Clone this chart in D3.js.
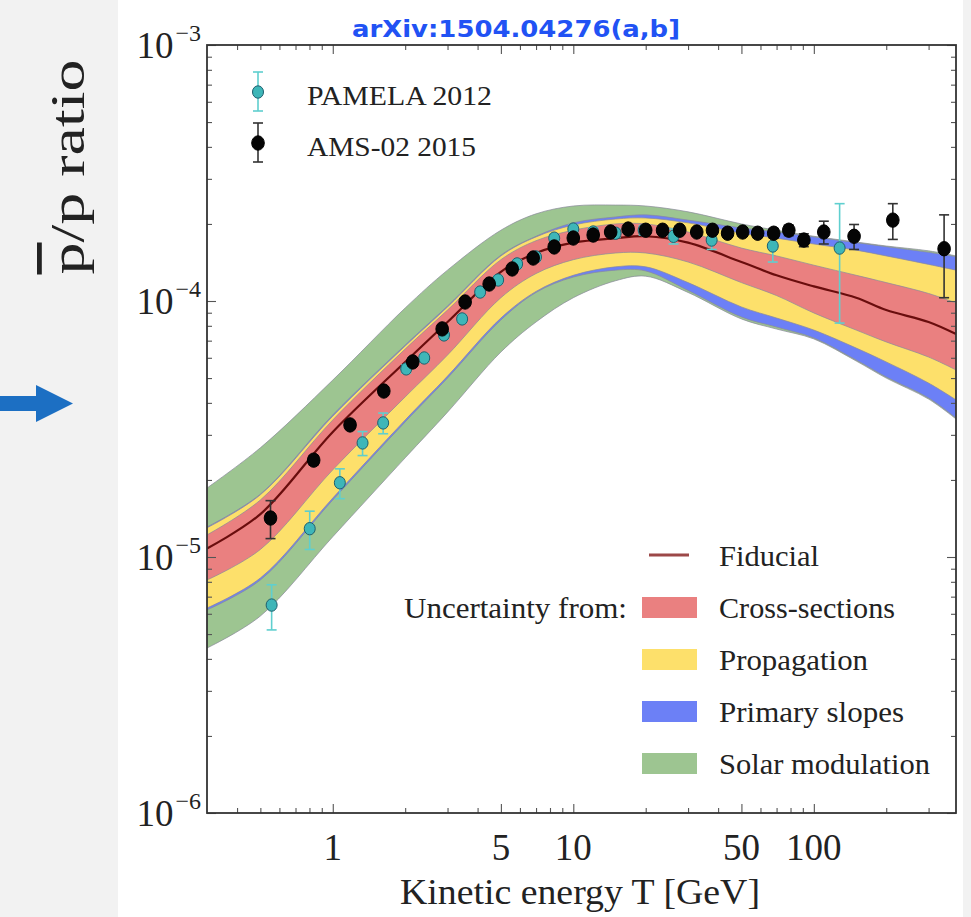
<!DOCTYPE html>
<html>
<head>
<meta charset="utf-8">
<script src="https://cdn.jsdelivr.net/npm/d3@7"></script>
<style>
  html, body { margin: 0; padding: 0; background: #ffffff; }
  svg { display: block; }
</style>
</head>
<body>
<svg id="chart" width="971" height="917"></svg>
<script>
// ---------------- DATA ----------------
// kinetic energy grid (GeV) for the model bands
const energyGrid = [0.3, 0.5, 1, 2, 3, 5, 7, 10, 15, 20, 30, 50, 70, 100, 150, 200, 300, 390];

const fiducial  = [1.08e-5, 1.47e-5, 3.08e-5, 5.78e-5, 8.28e-5, 1.30e-4, 1.54e-4, 1.69e-4, 1.76e-4, 1.79e-4, 1.69e-4, 1.42e-4, 1.26e-4, 1.14e-4, 1.03e-4, 9.22e-5, 8.28e-5, 7.43e-5];

const crossUpper = [1.22e-5, 1.67e-5, 3.43e-5, 6.49e-5, 9.22e-5, 1.45e-4, 1.72e-4, 1.89e-4, 2.00e-4, 2.00e-4, 1.86e-4, 1.61e-4, 1.50e-4, 1.38e-4, 1.26e-4, 1.18e-4, 1.07e-4, 9.82e-5];
const crossLower = [8.13e-6, 1.07e-5, 2.19e-5, 4.22e-5, 6.15e-5, 1.03e-4, 1.28e-4, 1.45e-4, 1.54e-4, 1.54e-4, 1.42e-4, 1.18e-4, 1.05e-4, 8.98e-5, 7.70e-5, 6.92e-5, 6.04e-5, 5.38e-5];

const propUpper = [1.30e-5, 1.75e-5, 3.55e-5, 6.67e-5, 9.48e-5, 1.50e-4, 1.78e-4, 1.98e-4, 2.09e-4, 2.11e-4, 2.02e-4, 1.84e-4, 1.76e-4, 1.67e-4, 1.58e-4, 1.50e-4, 1.39e-4, 1.32e-4];
const propLower = [6.32e-6, 8.28e-6, 1.70e-5, 3.43e-5, 5.09e-5, 8.58e-5, 1.09e-4, 1.26e-4, 1.36e-4, 1.36e-4, 1.18e-4, 9.48e-5, 8.58e-5, 7.70e-5, 6.55e-5, 5.78e-5, 4.78e-5, 4.11e-5];

const slopeUpper = [1.31e-5, 1.76e-5, 3.59e-5, 6.73e-5, 9.56e-5, 1.51e-4, 1.79e-4, 2.02e-4, 2.13e-4, 2.17e-4, 2.07e-4, 1.93e-4, 1.86e-4, 1.78e-4, 1.69e-4, 1.63e-4, 1.55e-4, 1.49e-4];
const slopeLower = [6.21e-6, 8.13e-6, 1.67e-5, 3.37e-5, 5.00e-5, 8.43e-5, 1.08e-4, 1.24e-4, 1.32e-4, 1.31e-4, 1.10e-4, 8.66e-5, 7.91e-5, 7.17e-5, 5.88e-5, 5.05e-5, 4.18e-5, 3.49e-5];

const solarUpper = [1.86e-5, 2.67e-5, 4.91e-5, 9.39e-5, 1.32e-4, 1.89e-4, 2.19e-4, 2.35e-4, 2.37e-4, 2.35e-4, 2.23e-4, 2.00e-4, 1.89e-4, 1.79e-4, 1.70e-4, 1.64e-4, 1.57e-4, 1.50e-4];
const solarLower = [4.41e-6, 5.88e-6, 1.20e-5, 2.44e-5, 3.68e-5, 6.32e-5, 8.28e-5, 1.03e-4, 1.20e-4, 1.25e-4, 1.08e-4, 8.51e-5, 7.77e-5, 7.11e-5, 5.83e-5, 5.00e-5, 4.14e-5, 3.46e-5];

// PAMELA 2012
const pamelaT   = [0.557, 0.802, 1.07, 1.33, 1.62, 2.02, 2.40, 2.90, 3.45, 4.10, 4.87, 5.84, 7.0, 8.33, 10.0, 12.1, 15.0, 19.6, 26.1, 37.6, 67.5, 128];
const pamelaV   = [6.49e-6, 1.29e-5, 1.95e-5, 2.79e-5, 3.34e-5, 5.43e-5, 5.99e-5, 7.37e-5, 8.51e-5, 1.084e-4, 1.208e-4, 1.396e-4, 1.486e-4, 1.76e-4, 1.91e-4, 1.86e-4, 1.84e-4, 1.89e-4, 1.79e-4, 1.73e-4, 1.64e-4, 1.61e-4];
const pamelaErr = [1.3e-6, 2.2e-6, 2.6e-6, 3.0e-6, 3.1e-6, 2.0e-6, 2.2e-6, 2.7e-6, 3.0e-6, 3.8e-6, 4.2e-6, 5.0e-6, 5.0e-6, 6.0e-6, 7.0e-6, 7.0e-6, 7.0e-6, 8.0e-6, 1.2e-5, 1.4e-5, 2.2e-5, 7.9e-5];

// AMS-02 2015
const amsT   = [0.551, 0.833, 1.18, 1.63, 2.15, 2.85, 3.55, 4.47, 5.57, 6.81, 8.33, 10.0, 12.1, 14.3, 16.9, 20.0, 23.5, 27.7, 32.6, 37.9, 43.8, 50.6, 58.4, 68.1, 78.7, 90.9, 110, 147, 213, 348];
const amsV   = [1.42e-5, 2.39e-5, 3.28e-5, 4.45e-5, 5.78e-5, 7.78e-5, 9.91e-5, 1.165e-4, 1.334e-4, 1.472e-4, 1.626e-4, 1.762e-4, 1.81e-4, 1.86e-4, 1.91e-4, 1.89e-4, 1.89e-4, 1.89e-4, 1.86e-4, 1.89e-4, 1.84e-4, 1.86e-4, 1.84e-4, 1.84e-4, 1.89e-4, 1.73e-4, 1.86e-4, 1.79e-4, 2.07e-4, 1.60e-4];
const amsErr = [2.4e-6, 1.0e-6, 1.3e-6, 1.7e-6, 2.0e-6, 2.5e-6, 3.0e-6, 3.5e-6, 4.0e-6, 4.5e-6, 5.0e-6, 5.5e-6, 6.0e-6, 6.0e-6, 6.0e-6, 6.0e-6, 6.0e-6, 6.0e-6, 6.0e-6, 6.0e-6, 6.5e-6, 7.0e-6, 7.0e-6, 8.0e-6, 9.0e-6, 1.0e-5, 1.9e-5, 2.0e-5, 3.3e-5, 5.7e-5];

// axes / labels
const xMajorTicks = [1, 5, 10, 50, 100];
const xMinorTicks = [0.4, 0.5, 0.6, 0.7, 0.8, 0.9, 2, 3, 4, 6, 7, 8, 9, 20, 30, 40, 60, 70, 80, 90, 200, 300];
const yMajorExponents = [-6, -5, -4, -3];
const yMinorMultipliers = [2, 3, 4, 5, 6, 7, 8, 9];
const seriesLabels = ["PAMELA 2012", "AMS-02 2015"];
const bandLabels = ["Cross-sections", "Propagation", "Primary slopes", "Solar modulation"];
const fiducialLabel = "Fiducial";

// ---------------- DRAWING ----------------
const svg = d3.select("#chart");
const W = 971, H = 917;
const X0 = 207, X1 = 956, Y0 = 45, Y1 = 813;
const serif = "'Liberation Serif', 'DejaVu Serif', serif";

// slide background strips
svg.append("rect").attr("x", 0).attr("y", 0).attr("width", W).attr("height", H).attr("fill", "#ffffff");
svg.append("rect").attr("x", 0).attr("y", 0).attr("width", 118).attr("height", H).attr("fill", "#f2f2f2");
svg.append("rect").attr("x", 963).attr("y", 0).attr("width", W - 963).attr("height", H).attr("fill", "#f2f2f2");

const x = d3.scaleLog().domain([0.3, 390]).range([X0, X1]);
const y = d3.scaleLog().domain([1e-6, 1e-3]).range([Y1, Y0]);

svg.append("defs").append("clipPath").attr("id", "plotclip")
  .append("rect").attr("x", X0).attr("y", Y0).attr("width", X1 - X0).attr("height", Y1 - Y0);

const plot = svg.append("g").attr("clip-path", "url(#plotclip)");

const bands = [
  { up: solarUpper, lo: solarLower, color: "#9dc591" },
  { up: slopeUpper, lo: slopeLower, color: "#6c80f6" },
  { up: propUpper,  lo: propLower,  color: "#fde06b" },
  { up: crossUpper, lo: crossLower, color: "#ea8080" }
];
const smooth = d3.curveCatmullRom.alpha(0.5);

bands.forEach(b => {
  const area = d3.area()
    .x((d, i) => x(energyGrid[i]))
    .y0((d, i) => y(b.lo[i]))
    .y1((d, i) => y(b.up[i]))
    .curve(smooth);
  plot.append("path").datum(energyGrid).attr("d", area)
    .attr("fill", b.color).attr("stroke", "#8a8a9a").attr("stroke-width", 0.9).attr("stroke-opacity", 0.8);
});

const fidLine = d3.line().x((d, i) => x(energyGrid[i])).y((d, i) => y(fiducial[i])).curve(smooth);
plot.append("path").datum(energyGrid).attr("d", fidLine)
  .attr("fill", "none").attr("stroke", "#6a0d0d").attr("stroke-width", 2.2);

// data points with error bars
function drawSeries(Ts, Vs, Es, opt) {
  const g = plot.append("g");
  Ts.forEach((t, i) => {
    const cx = x(t);
    const yt = y(Vs[i] + Es[i]), yb = y(Math.max(Vs[i] - Es[i], 1e-7));
    g.append("line").attr("x1", cx).attr("x2", cx).attr("y1", yt).attr("y2", yb)
      .attr("stroke", opt.err).attr("stroke-width", 1.6);
    [yt, yb].forEach(yy => g.append("line").attr("x1", cx - 5).attr("x2", cx + 5).attr("y1", yy).attr("y2", yy)
      .attr("stroke", opt.err).attr("stroke-width", 1.6));
  });
  Ts.forEach((t, i) => {
    g.append("ellipse").attr("cx", x(t)).attr("cy", y(Vs[i])).attr("rx", opt.rx).attr("ry", opt.ry)
      .attr("fill", opt.fill).attr("stroke", opt.stroke).attr("stroke-width", 1);
  });
}
drawSeries(pamelaT, pamelaV, pamelaErr, { fill: "#3eb6b8", stroke: "#1f5f6e", err: "#5fcfcf", rx: 5.5, ry: 6.2 });
drawSeries(amsT, amsV, amsErr, { fill: "#050505", stroke: "#000", err: "#333", rx: 6.3, ry: 7.2 });

// ---- axes: ticks pointing inward ----
const yMinorVals = [];
yMajorExponents.slice(0, -1).forEach(e => yMinorMultipliers.forEach(m => yMinorVals.push(m * Math.pow(10, e))));
const yMajorVals = yMajorExponents.map(e => Math.pow(10, e));

svg.append("g").attr("transform", `translate(${X0},0)`)
  .call(d3.axisLeft(y).tickValues(yMajorVals).tickSize(-9).tickFormat(""));
svg.append("g").attr("transform", `translate(${X0},0)`)
  .call(d3.axisLeft(y).tickValues(yMinorVals).tickSize(-5).tickFormat(""));
svg.append("g").attr("transform", `translate(${X1},0)`)
  .call(d3.axisRight(y).tickValues(yMajorVals).tickSize(-9).tickFormat(""));
svg.append("g").attr("transform", `translate(${X1},0)`)
  .call(d3.axisRight(y).tickValues(yMinorVals).tickSize(-5).tickFormat(""));
svg.append("g").attr("transform", `translate(0,${Y1})`)
  .call(d3.axisBottom(x).tickValues(xMajorTicks).tickSize(-9).tickFormat(""));
svg.append("g").attr("transform", `translate(0,${Y1})`)
  .call(d3.axisBottom(x).tickValues(xMinorTicks).tickSize(-5).tickFormat(""));
svg.append("g").attr("transform", `translate(0,${Y0})`)
  .call(d3.axisTop(x).tickValues(xMajorTicks).tickSize(-9).tickFormat(""));
svg.append("g").attr("transform", `translate(0,${Y0})`)
  .call(d3.axisTop(x).tickValues(xMinorTicks).tickSize(-5).tickFormat(""));
svg.selectAll(".domain").remove();
svg.selectAll(".tick line").attr("stroke", "#555").attr("stroke-width", 1.1);

svg.append("rect").attr("x", X0).attr("y", Y0).attr("width", X1 - X0).attr("height", Y1 - Y0)
  .attr("fill", "none").attr("stroke", "#333").attr("stroke-width", 1.8);

// y tick labels 10^n
yMajorExponents.forEach(e => {
  const t = svg.append("text").attr("x", 201).attr("y", y(Math.pow(10, e)) + 13)
    .attr("text-anchor", "end").attr("font-family", serif).attr("fill", "#222");
  t.append("tspan").attr("font-size", 37).text("10");
  t.append("tspan").attr("font-size", 24).attr("dx", 2).attr("dy", -17).text("\u2212" + Math.abs(e));
});

// x tick labels
xMajorTicks.forEach(v => {
  svg.append("text").attr("x", x(v)).attr("y", 860).attr("text-anchor", "middle")
    .attr("font-family", serif).attr("font-size", 37).attr("fill", "#222").text(d3.format("d")(v));
});

// axis titles
svg.append("text").attr("x", 580).attr("y", 904).attr("text-anchor", "middle")
  .attr("font-family", serif).attr("font-size", 36).attr("fill", "#222")
  .attr("textLength", 360).attr("lengthAdjust", "spacingAndGlyphs")
  .text("Kinetic energy T [GeV]");

const yl = svg.append("text").attr("transform", "translate(84,167) rotate(-90)")
  .attr("text-anchor", "middle").attr("font-family", serif).attr("font-size", 48).attr("fill", "#222")
  .attr("textLength", 215).attr("lengthAdjust", "spacingAndGlyphs");
yl.append("tspan").style("text-decoration", "overline").text("p");
yl.append("tspan").text("/p ratio");

// title
svg.append("text").attr("x", 352).attr("y", 37)
  .attr("font-family", "'DejaVu Sans', sans-serif").attr("font-weight", "bold").attr("font-size", 23)
  .attr("fill", "#2152f4").attr("textLength", 328).attr("lengthAdjust", "spacingAndGlyphs")
  .text("arXiv:1504.04276(a,b]");

// arrow on the slide
svg.append("path").attr("d", "M0,396 L36,396 L36,385 L73,403.5 L36,422 L36,411 L0,411 Z").attr("fill", "#1c6fc3");

// ---- top-left legend ----
const legTL = [
  { label: seriesLabels[0], cy: 92, fill: "#3eb6b8", stroke: "#1f5f6e", err: "#5fcfcf", len: 185, base: 105, rx: 5.5, ry: 6.2 },
  { label: seriesLabels[1], cy: 143, fill: "#050505", stroke: "#000", err: "#333", len: 169, base: 156, rx: 6.3, ry: 7.2 }
];
legTL.forEach(d => {
  const cx = 258;
  svg.append("line").attr("x1", cx).attr("x2", cx).attr("y1", d.cy - 20).attr("y2", d.cy + 19).attr("stroke", d.err).attr("stroke-width", 1.6);
  [d.cy - 20, d.cy + 19].forEach(yy => svg.append("line").attr("x1", cx - 5).attr("x2", cx + 5).attr("y1", yy).attr("y2", yy).attr("stroke", d.err).attr("stroke-width", 1.6));
  svg.append("ellipse").attr("cx", cx).attr("cy", d.cy).attr("rx", d.rx).attr("ry", d.ry).attr("fill", d.fill).attr("stroke", d.stroke);
  svg.append("text").attr("x", 307).attr("y", d.base).attr("font-family", serif).attr("font-size", 28).attr("fill", "#222")
    .attr("textLength", d.len).attr("lengthAdjust", "spacingAndGlyphs").text(d.label);
});

// ---- bottom-right legend ----
svg.append("line").attr("x1", 649).attr("x2", 689).attr("y1", 555).attr("y2", 555).attr("stroke", "#9c4848").attr("stroke-width", 3);
svg.append("text").attr("x", 719).attr("y", 566).attr("font-family", serif).attr("font-size", 29).attr("fill", "#222")
  .attr("textLength", 100).attr("lengthAdjust", "spacingAndGlyphs").text(fiducialLabel);
svg.append("text").attr("x", 404).attr("y", 618).attr("font-family", serif).attr("font-size", 29).attr("fill", "#222")
  .attr("textLength", 223).attr("lengthAdjust", "spacingAndGlyphs").text("Uncertainty from:");
const legendColors = ["#ea8080", "#fde06b", "#6c80f6", "#9dc591"];
const legendLens = [176, 149, 185, 211];
bandLabels.forEach((lab, i) => {
  const top = 597 + i * 52;
  svg.append("rect").attr("x", 642).attr("y", top).attr("width", 55).attr("height", 21).attr("fill", legendColors[i]);
  svg.append("text").attr("x", 719).attr("y", top + 21).attr("font-family", serif).attr("font-size", 29).attr("fill", "#222")
    .attr("textLength", legendLens[i]).attr("lengthAdjust", "spacingAndGlyphs").text(lab);
});
</script>
</body>
</html>
